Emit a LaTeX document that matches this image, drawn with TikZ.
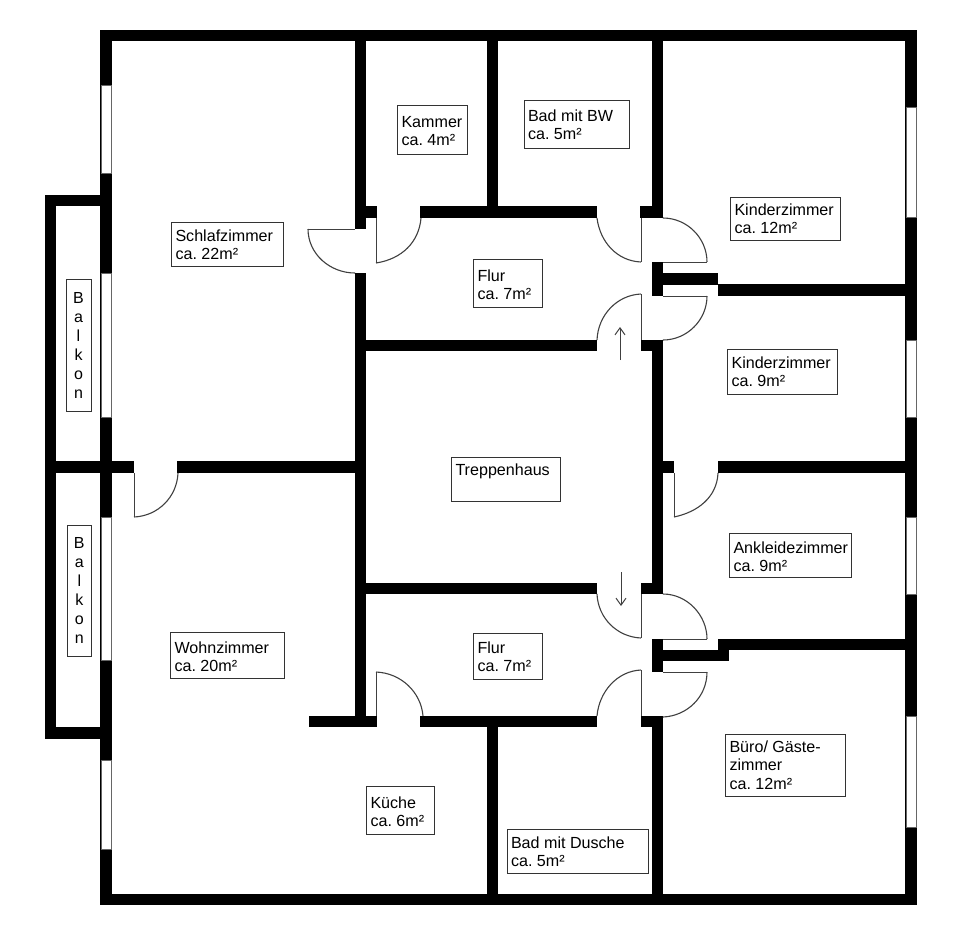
\documentclass[tikz,border=0pt]{standalone}
\usepackage{fontspec}
\setmainfont{Liberation Sans}
\frenchspacing
\usetikzlibrary{arrows.meta}
\tikzset{
  wall/.style={fill=black,draw=none},
  win/.style={fill=white,draw=black!60,line width=.7pt},
  leaf/.style={draw=black!75,line width=1pt},
  swing/.style={draw=black!75,line width=1.1pt},
  walkarrow/.style={draw=black!75,line width=1pt,-{Straight Barb[length=7pt,width=10pt]}},
  lbl/.style={draw=black!80,line width=1pt,fill=white,inner xsep=4pt,inner ysep=0pt,anchor=north west,font=\fontsize{16.1}{18.4}\selectfont},
  vlbl/.style={draw=black!80,line width=1pt,fill=white,inner sep=0pt,align=center,font=\fontsize{16}{19}\selectfont}
}
\newcommand{\lab}[7]{\node[lbl,minimum width=#4pt,minimum height=#5pt] (#1) at (#2,#3) {\begin{minipage}[c][#5pt][t]{\dimexpr#4pt-8pt\relax}\vspace*{#7pt}\raggedright\strut #6\end{minipage}};}
\begin{document}
\begin{tikzpicture}[x=1pt,y=-1pt]
\useasboundingbox (0,0) rectangle (955,943);
\fill[white] (0,0) rectangle (955,943);
% outer walls
\fill[wall] (100,30) rectangle (917,41);
\fill[wall] (100,894) rectangle (917,905);
\fill[wall] (100,30) rectangle (112,905);
\fill[wall] (905,30) rectangle (917,905);
% balcony
\fill[wall] (45,195) rectangle (56,739);
\fill[wall] (45,195) rectangle (100,206);
\fill[wall] (45,461) rectangle (134,473);
\fill[wall] (45,727) rectangle (100,739);
% windows
\foreach \a/\b in {85/173,273/417,517/660,760/849}{\filldraw[win] (101,\a) rectangle (111,\b);}
\foreach \a/\b in {107/217,340/417,517/594,716/827}{\filldraw[win] (906,\a) rectangle (916,\b);}
% interior vertical
\fill[wall] (355,30) rectangle (366,229);
\fill[wall] (355,273) rectangle (366,727);
\fill[wall] (487,30) rectangle (498,206);
\fill[wall] (487,727) rectangle (498,905);
\fill[wall] (652,30) rectangle (663,218);
\fill[wall] (652,262) rectangle (663,296);
\fill[wall] (652,340) rectangle (663,594);
\fill[wall] (652,639) rectangle (663,672);
\fill[wall] (652,716) rectangle (663,905);
% interior horizontal
\fill[wall] (355,206) rectangle (377,218);
\fill[wall] (420,206) rectangle (597,218);
\fill[wall] (640,206) rectangle (652,218);
\fill[wall] (366,340) rectangle (597,351);
\fill[wall] (641,340) rectangle (652,351);
\fill[wall] (177,461) rectangle (355,473);
\fill[wall] (366,583) rectangle (597,594);
\fill[wall] (641,583) rectangle (652,594);
\fill[wall] (309,716) rectangle (377,727);
\fill[wall] (420,716) rectangle (597,727);
\fill[wall] (641,716) rectangle (652,727);
% right side
\fill[wall] (663,273) rectangle (718,285);
\fill[wall] (718,284) rectangle (905,296);
\fill[wall] (663,461) rectangle (674,473);
\fill[wall] (718,461) rectangle (905,473);
\fill[wall] (663,650) rectangle (729,661);
\fill[wall] (718,639) rectangle (905,650);
% doors
\draw[leaf] (355,229) -- (308,229);
\draw[swing] (308,229) .. controls (308,254) and (330,273) .. (355,273);
\draw[leaf] (376,218) -- (376,263);
\draw[swing] (376,263) .. controls (402,259) and (419,242) .. (421,218);
\draw[leaf] (641,218) -- (641,262);
\draw[swing] (597,218) .. controls (600,242) and (617,261) .. (641,262);
\draw[leaf] (663,262) -- (707,262);
\draw[swing] (663,218) .. controls (687,218) and (707,238) .. (707,262);
\draw[leaf] (663,296) -- (707,296);
\draw[swing] (707,296) .. controls (707,320) and (687,340) .. (663,340);
\draw[leaf] (641,294) -- (641,340);
\draw[swing] (641,294) .. controls (617,295) and (598,315) .. (597,340);
\draw[leaf] (134,473) -- (134,517);
\draw[swing] (134,517) .. controls (158,516) and (177,497) .. (178,473);
\draw[leaf] (674,473) -- (674,517);
\draw[swing] (674,517) .. controls (698,512) and (717,497) .. (718,473);
\draw[leaf] (641,594) -- (641,638);
\draw[swing] (597,594) .. controls (598,618) and (617,637) .. (641,638);
\draw[leaf] (663,639) -- (707,639);
\draw[swing] (663,594) .. controls (687,594) and (707,615) .. (707,639);
\draw[leaf] (663,672) -- (707,672);
\draw[swing] (707,672) .. controls (707,697) and (687,716) .. (663,717);
\draw[leaf] (641,670) -- (641,716);
\draw[swing] (641,670) .. controls (617,671) and (599,692) .. (597,716);
\draw[leaf] (376,672) -- (376,716);
\draw[swing] (376,672) .. controls (401,673) and (421,692) .. (423,716);
% arrows
\coordinate (upS) at (620,360); \coordinate (upE) at (620,327);
\coordinate (dnS) at (621,572); \coordinate (dnE) at (621,606);
\draw[walkarrow] (upS) -- (upE);
\draw[walkarrow] (dnS) -- (dnE);
% labels
\lab{schlaf}{171}{222}{112}{44}{Schlafzimmer\\ca. 22m²}{5.7}
\lab{kammer}{397}{105}{70}{49}{Kammer\\ca. 4m²}{8.7}
\lab{badbw}{523.5}{100}{105}{48}{Bad mit BW\\ca. 5m²}{8}
\lab{kind1}{730}{197}{110}{43}{Kinderzimmer\\ca. 12m²}{5}
\lab{flur1}{473}{259}{69}{48}{Flur\\ca. 7m²}{8.7}
\lab{kind2}{727}{349}{110}{45}{Kinderzimmer\\ca. 9m²}{6}
\lab{trepp}{451}{457}{109}{44}{Treppenhaus}{5}
\lab{ankl}{729}{533}{122}{44}{Ankleidezimmer\\ca. 9m²}{7}
\lab{flur2}{473}{633}{69}{46}{Flur\\ca. 7m²}{7}
\lab{wohn}{170}{632}{114}{46}{Wohnzimmer\\ca. 20m²}{8}
\lab{kueche}{366}{786}{68}{48}{Küche\\ca. 6m²}{8.7}
\lab{baddu}{506.5}{829}{141.5}{43.5}{Bad mit Dusche\\ca. 5m²}{6}
\lab{buero}{725}{734}{120}{62}{Büro/ Gäste-\\zimmer\\ca. 12m²}{5}
\node[vlbl,minimum width=25pt,minimum height=132pt,text width=25pt] (balk1) at (78.5,345) {B\\a\\l\\k\\o\\n};
\node[vlbl,minimum width=24pt,minimum height=131pt,text width=24pt] (balk2) at (79.3,590.5) {B\\a\\l\\k\\o\\n};
\end{tikzpicture}
\end{document}
